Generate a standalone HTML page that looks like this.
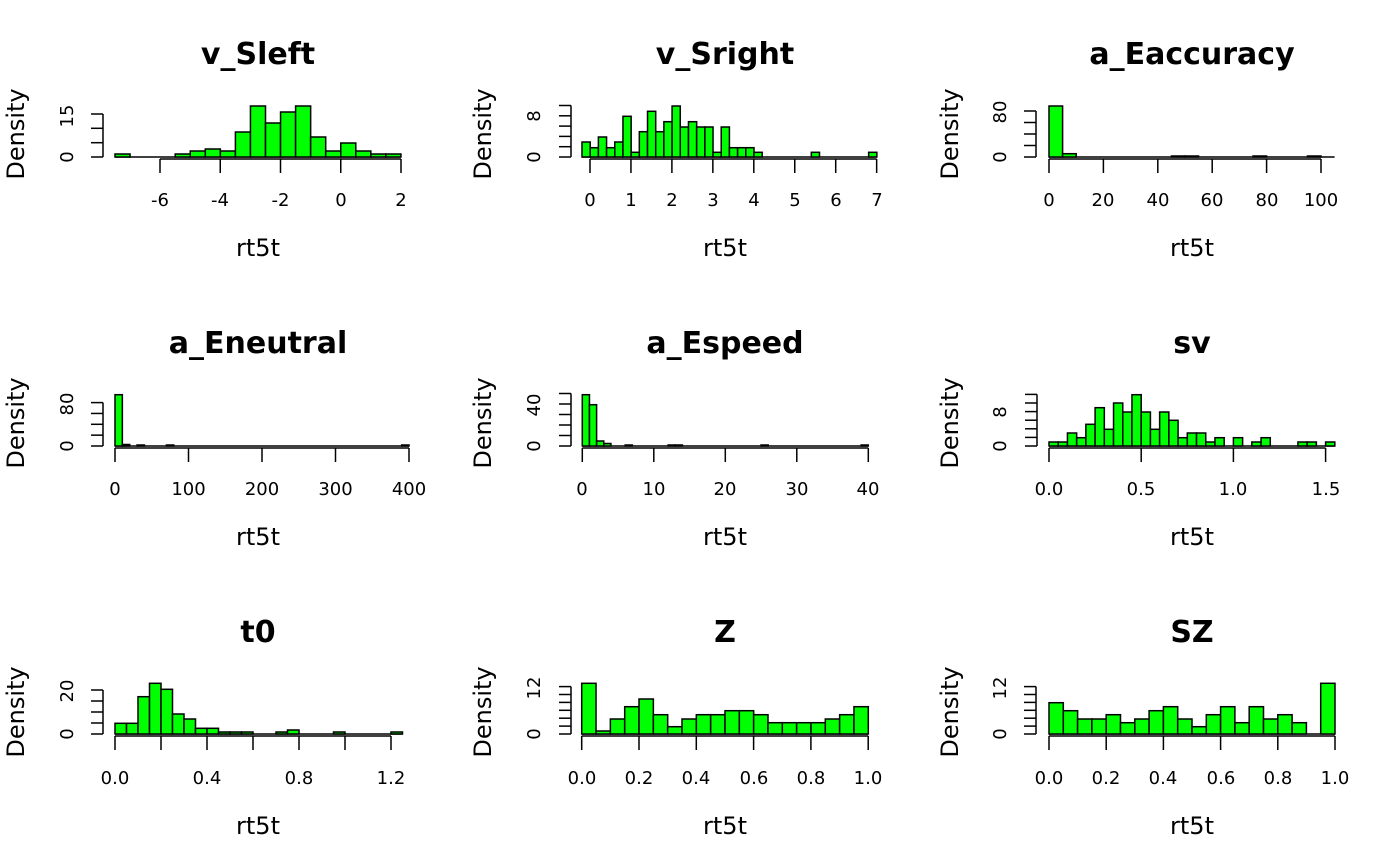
<!DOCTYPE html>
<html><head><meta charset="utf-8"><style>
html,body{margin:0;padding:0;background:#fff}
svg{display:block}
text{font-family:"DejaVu Sans","Liberation Sans",sans-serif;fill:#000}
.t{font-size:30px;font-weight:bold}
.l{font-size:24px}
.k{font-size:18px}
</style></head><body>
<svg id="s" width="1400" height="866" xmlns="http://www.w3.org/2000/svg">
<g id="bars"></g>
<g text-anchor="middle">
<text class="t" x="258" y="64">v_Sleft</text>
<text class="t" x="725" y="64">v_Sright</text>
<text class="t" x="1192" y="64">a_Eaccuracy</text>
<text class="t" x="258" y="353">a_Eneutral</text>
<text class="t" x="725" y="353">a_Espeed</text>
<text class="t" x="1192" y="353">sv</text>
<text class="t" x="258" y="642">t0</text>
<text class="t" x="725" y="642">Z</text>
<text class="t" x="1192" y="642">SZ</text>
<text class="l" x="258" y="256">rt5t</text>
<text class="l" x="725" y="256">rt5t</text>
<text class="l" x="1192" y="256">rt5t</text>
<text class="l" x="258" y="545">rt5t</text>
<text class="l" x="725" y="545">rt5t</text>
<text class="l" x="1192" y="545">rt5t</text>
<text class="l" x="258" y="834">rt5t</text>
<text class="l" x="725" y="834">rt5t</text>
<text class="l" x="1192" y="834">rt5t</text>
<text class="l" transform="translate(24,134) rotate(-90)">Density</text>
<text class="l" transform="translate(491,134) rotate(-90)">Density</text>
<text class="l" transform="translate(958,134) rotate(-90)">Density</text>
<text class="l" transform="translate(24,423) rotate(-90)">Density</text>
<text class="l" transform="translate(491,423) rotate(-90)">Density</text>
<text class="l" transform="translate(958,423) rotate(-90)">Density</text>
<text class="l" transform="translate(24,712) rotate(-90)">Density</text>
<text class="l" transform="translate(491,712) rotate(-90)">Density</text>
<text class="l" transform="translate(958,712) rotate(-90)">Density</text>
<text class="k" transform="translate(73,157) rotate(-90)">0</text>
<text class="k" transform="translate(73,116) rotate(-90)">15</text>
<text class="k" transform="translate(540,157) rotate(-90)">0</text>
<text class="k" transform="translate(540,116) rotate(-90)">8</text>
<text class="k" transform="translate(1006,157) rotate(-90)">0</text>
<text class="k" transform="translate(1006,112) rotate(-90)">80</text>
<text class="k" transform="translate(73,446) rotate(-90)">0</text>
<text class="k" transform="translate(73,404) rotate(-90)">80</text>
<text class="k" transform="translate(540,446) rotate(-90)">0</text>
<text class="k" transform="translate(540,405) rotate(-90)">40</text>
<text class="k" transform="translate(1006,446) rotate(-90)">0</text>
<text class="k" transform="translate(1006,412) rotate(-90)">8</text>
<text class="k" transform="translate(73,734) rotate(-90)">0</text>
<text class="k" transform="translate(73,691) rotate(-90)">20</text>
<text class="k" transform="translate(540,734) rotate(-90)">0</text>
<text class="k" transform="translate(540,688) rotate(-90)">12</text>
<text class="k" transform="translate(1006,734) rotate(-90)">0</text>
<text class="k" transform="translate(1006,688) rotate(-90)">12</text>
<text class="k" x="160" y="206">-6</text><text class="k" x="220" y="206">-4</text><text class="k" x="280.5" y="206">-2</text><text class="k" x="341" y="206">0</text><text class="k" x="401" y="206">2</text>
<text class="k" x="590" y="206">0</text><text class="k" x="631" y="206">1</text><text class="k" x="672" y="206">2</text><text class="k" x="713" y="206">3</text><text class="k" x="754" y="206">4</text><text class="k" x="795" y="206">5</text><text class="k" x="836" y="206">6</text><text class="k" x="877" y="206">7</text>
<text class="k" x="1049" y="206">0</text><text class="k" x="1103" y="206">20</text><text class="k" x="1158" y="206">40</text><text class="k" x="1212" y="206">60</text><text class="k" x="1267" y="206">80</text><text class="k" x="1321" y="206">100</text>
<text class="k" x="115" y="495">0</text><text class="k" x="188.5" y="495">100</text><text class="k" x="262" y="495">200</text><text class="k" x="335.5" y="495">300</text><text class="k" x="409" y="495">400</text>
<text class="k" x="582" y="495">0</text><text class="k" x="654" y="495">10</text><text class="k" x="725" y="495">20</text><text class="k" x="797" y="495">30</text><text class="k" x="868" y="495">40</text>
<text class="k" x="1049" y="495">0.0</text><text class="k" x="1141" y="495">0.5</text><text class="k" x="1233" y="495">1.0</text><text class="k" x="1326" y="495">1.5</text>
<text class="k" x="115" y="784">0.0</text><text class="k" x="207" y="784">0.4</text><text class="k" x="299" y="784">0.8</text><text class="k" x="391" y="784">1.2</text>
<text class="k" x="582" y="784">0.0</text><text class="k" x="639" y="784">0.2</text><text class="k" x="696" y="784">0.4</text><text class="k" x="754" y="784">0.6</text><text class="k" x="811" y="784">0.8</text><text class="k" x="868" y="784">1.0</text>
<text class="k" x="1049" y="784">0.0</text><text class="k" x="1106" y="784">0.2</text><text class="k" x="1163" y="784">0.4</text><text class="k" x="1221" y="784">0.6</text><text class="k" x="1278" y="784">0.8</text><text class="k" x="1335" y="784">1.0</text>
</g>
</svg>
<script>
(function(){
var g=document.getElementById('bars'),NS='http://www.w3.org/2000/svg';
function el(n,a){var e=document.createElementNS(NS,n);for(var k in a)e.setAttribute(k,a[k]);g.appendChild(e);return e;}
function line(x1,y1,x2,y2){el('line',{x1:x1,y1:y1,x2:x2,y2:y2,stroke:'#000','stroke-width':1.5});}
function bars(x0,w,base,hs){
 line(x0,base,x0+w*hs.length,base);
 hs.forEach(function(h,i){ if(h>0.5) el('rect',{x:x0+i*w,y:base-h,width:w,height:h,fill:'#00ff00',stroke:'#000','stroke-width':1.5}); });
}
function xaxis(xs,y){line(xs[0],y,xs[xs.length-1],y);xs.forEach(function(x){line(x,y,x,y+14);});}
function yaxis(x,ys){line(x,ys[0],x,ys[ys.length-1]);ys.forEach(function(y){line(x,y,x-12,y);});}
function rng(a,step,n){var r=[];for(var i=0;i<n;i++)r.push(a+i*step);return r;}
bars(115,15.05,157,[3,0,0,0,3,6,8,6,25,51,34,45,51,20,6,14,6,3,3]);
xaxis(rng(160,60.25,5),159);yaxis(103,[157,142.7,128.3,114]);
bars(582,8.19,157,[15,9.3,20,9.3,15,40.7,4.7,25.3,45.7,25.3,35.3,51,30,35.3,30,30,4.7,30,9.3,9.3,9.3,4.7,0,0,0,0,0,0,4.7,0,0,0,0,0,0,4.7]);
xaxis(rng(590,40.95,8),159);yaxis(571,rng(157,-10.3,6));
bars(1049,13.6,157,[51,3.3,0,0,0,0,0,0,0,1,1,0,0,0,0,1,0,0,0,1,0]);
xaxis(rng(1049,54.4,6),159);yaxis(1036,rng(157,-11.5,5));
bars(115,7.35,446,[51.3,1.5,0,1,0,0,0,1].concat(rng(0,0,31)).concat([1]));
xaxis(rng(115,73.5,5),448);yaxis(103,rng(446,-10.85,5));
bars(582.3,7.15,446,[51.3,41.3,5,2.5,0,0,1,0,0,0,0,0,1,1].concat(rng(0,0,11)).concat([1]).concat(rng(0,0,13)).concat([1]));
xaxis(rng(582.3,71.5,5),448);yaxis(571,rng(446,-10.5,6));
bars(1049,9.22,446,[4,4,13,8.3,21.7,38.3,16.7,43,34,51.3,34,16.7,34,25.7,8.3,13,13,4,8.3,0,8.3,0,4,8.3,0,0,0,4,4,0,4]);
xaxis(rng(1049,92.2,4),448);yaxis(1037,rng(446,-8.6,7));
bars(115,11.5,734,[10.7,10.7,37.3,50.7,44.7,20,15,5.7,5.7,2,2,2,0,0,2,4,0,0,0,2,0,0,0,0,2]);
xaxis(rng(115,46,7),736);yaxis(103,rng(734,-11,5));
bars(581.7,14.33,734,[50.7,3,15,27.3,35,19.3,7.3,15,19.3,19.3,23.3,23.3,19.3,11.3,11.3,11.3,11.3,15,19.3,27.3]);
xaxis(rng(581.7,57.3,6),736);yaxis(571,rng(734,-7.9,7));
bars(1049,14.3,734,[31.3,23.3,15,15,19.3,11.3,15,23.3,27.3,15,7.3,19.3,27.3,11.3,27.3,15,19.3,11.3,0,50.7]);
xaxis(rng(1049,57.2,6),736);yaxis(1036,rng(734,-7.9,7));
})();
</script>
</body></html>
